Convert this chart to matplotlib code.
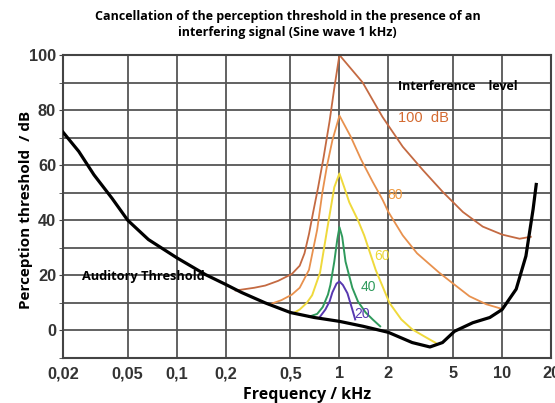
import matplotlib
matplotlib.use("Agg")
import matplotlib.pyplot as plt
from matplotlib.ticker import FixedLocator, NullFormatter

# Hörschwelle (auditory threshold), f in kHz, level in dB
thr_f = [0.02, 0.025, 0.031, 0.04, 0.05, 0.067, 0.1, 0.15, 0.2, 0.25, 0.35, 0.5, 0.7,
         1.0, 1.4, 2.0, 2.8, 3.6, 4.3, 5.1, 6.6, 8.4, 10, 12.2, 14, 15.5, 16.2]
thr_db = [72, 65, 56.5, 48, 40, 33, 26.4, 20.3, 16.7, 13.8, 10, 6.5, 4.7,
          3.3, 1.5, -0.7, -4.4, -6, -4.4, -0.3, 2.8, 4.7, 7.6, 15, 27, 44, 53]

# masking curves for interference levels 100, 80, 60, 40, 20 dB
m100_f = [0.23, 0.3, 0.35, 0.42, 0.51, 0.57, 0.61, 0.65, 0.69, 0.74, 0.8, 0.87, 0.93, 1.0,
          1.39, 1.6, 1.84, 2.45, 3.25, 4.3, 5.74, 7.6, 10, 12.8, 15]
m100_db = [14.5, 15.5, 16.3, 18, 20.5, 23.5, 28, 35, 43, 52, 63, 76, 88, 100,
           90, 83.7, 77.5, 66.7, 58.3, 50.4, 43, 37.7, 34.8, 33.3, 34]

m80_f = [0.37, 0.44, 0.51, 0.57, 0.65, 0.73, 0.785, 0.84, 0.905, 1.0,
         1.17, 1.36, 1.6, 1.84, 2.0, 2.45, 3.0, 4.1, 5.0, 6.3, 8.0, 10]
m80_db = [9.4, 11, 13, 15.5, 22, 36.6, 50, 60, 69, 78,
          70.5, 62, 54, 47.5, 43, 34.5, 28, 21, 17, 12.4, 9.5, 7.8]

m60_f = [0.53, 0.57, 0.63, 0.68, 0.76, 0.84, 0.93, 1.0,
         1.07, 1.15, 1.3, 1.42, 1.67, 2.03, 2.4, 2.8, 3.4, 3.9]
m60_db = [6.5, 7.6, 10, 12.8, 21, 36.6, 52, 57,
          52, 46.5, 40, 34.5, 22, 10, 4, 0.4, -2.5, -4.5]

m40_f = [0.65, 0.73, 0.79, 0.85, 0.88, 0.93, 0.97, 1.0,
         1.04, 1.09, 1.2, 1.3, 1.45, 1.6, 1.78]
m40_db = [5, 6, 8.5, 13, 16.5, 25, 33, 37.5,
          34, 25, 15.5, 10.5, 6.5, 4, 1.5]

m20_f = [0.76, 0.82, 0.87, 0.905, 0.96, 1.0, 1.05, 1.12, 1.2, 1.25]
m20_db = [5, 7.6, 10.5, 13.8, 17, 17.8, 16.5, 13.5, 7.6, 4]

x_ticks = [0.02, 0.05, 0.1, 0.2, 0.5, 1, 2, 5, 10, 20]
x_labels = ["0,02", "0,05", "0,1", "0,2", "0,5", "1", "2", "5", "10", "20"]
y_ticks = [0, 20, 40, 60, 80, 100]

fig = plt.figure(figsize=(5.55, 4.03), dpi=100)
ax = fig.add_axes([0.1135, 0.1117, 0.8795, 0.7518])

ax.plot(m100_f, m100_db, color="#c46a42", lw=1.3)
ax.plot(m80_f, m80_db, color="#e8914e", lw=1.3)
ax.plot(m60_f, m60_db, color="#efd93c", lw=1.4)
ax.plot(m40_f, m40_db, color="#2f9a5c", lw=1.4)
ax.plot(m20_f, m20_db, color="#5738b0", lw=1.4)
ax.plot(thr_f, thr_db, color="black", lw=2.3, zorder=5)

ax.set_xscale("log")
ax.set_xlim(0.02, 20)
ax.set_ylim(-10, 100)

ax.xaxis.set_major_locator(FixedLocator(x_ticks))
ax.set_xticklabels(x_labels)
ax.xaxis.set_minor_formatter(NullFormatter())
ax.xaxis.set_minor_locator(FixedLocator([]))
ax.yaxis.set_major_locator(FixedLocator(y_ticks))
ax.yaxis.set_minor_locator(FixedLocator([-10, 10, 30, 50, 70, 90]))

ax.grid(True, which="both", color="#555555", lw=1.3)
ax.set_axisbelow(True)
for s in ax.spines.values():
    s.set_color("#444444")
    s.set_linewidth(1.5)

ax.tick_params(axis="x", length=0, pad=6)
ax.tick_params(axis="y", which="both", length=3, color="#444444", pad=2)
for lab in ax.get_xticklabels() + ax.get_yticklabels():
    lab.set_fontfamily("Liberation Sans")
    lab.set_fontweight("bold")
    lab.set_fontsize(11.8)
    lab.set_color("#333333")

ax.set_xlabel("Frequency / kHz", family="Open Sans", weight="bold", fontsize=11.5, labelpad=4)
ax.set_ylabel("Perception threshold  / dB", family="Open Sans", weight="bold", fontsize=11)
ax.yaxis.set_label_coords(-0.062, 0.49)

fig.text(0.518, 0.975, "Cancellation of the perception threshold in the presence of an\ninterfering signal (Sine wave 1 kHz)",
         ha="center", va="top", family="Open Sans", weight="bold", fontsize=9, linespacing=1.25)

ax.text(2.28, 88.5, "Interference    level", family="Open Sans", weight="bold", fontsize=9, va="center")
ax.text(2.3, 77, "100  dB", family="Liberation Sans", color="#d46a30", fontsize=10.5, va="center")
ax.text(1.96, 49, "80", family="Liberation Sans", color="#f09a40", fontsize=10, va="center")
ax.text(1.64, 27, "60", family="Liberation Sans", color="#ecd838", fontsize=10, va="center")
ax.text(1.35, 15.6, "40", family="Liberation Sans", color="#2f9a5c", fontsize=10, va="center")
ax.text(1.24, 5.8, "20", family="Liberation Sans", color="#5738b0", fontsize=10, va="center")
ax.text(0.026, 19.5, "Auditory Threshold", family="Open Sans", weight="bold", fontsize=9.2, va="center", zorder=6)

fig.savefig("out.png", dpi=100)
